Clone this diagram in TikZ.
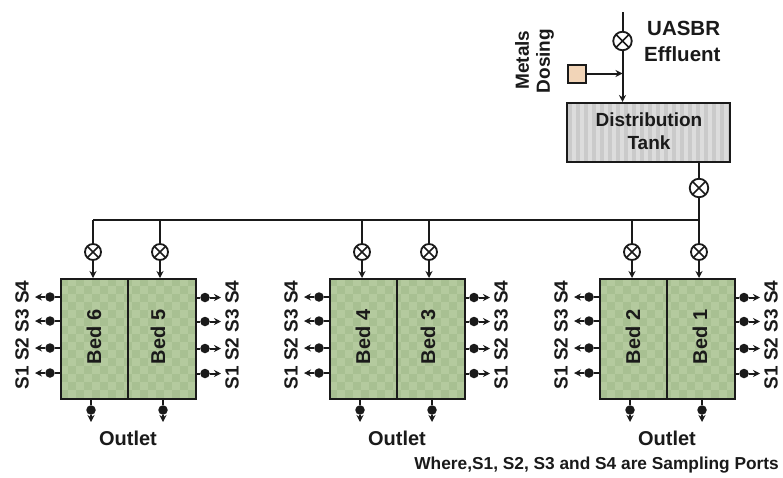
\documentclass[tikz,border=0pt]{standalone}
\usepackage{fontspec}
\setmainfont{Liberation Sans}
\usetikzlibrary{arrows.meta}
\definecolor{ink}{HTML}{1A1A1A}
\definecolor{bedA}{HTML}{B4CA9E}
\definecolor{bedB}{HTML}{A8C092}
\definecolor{tankA}{HTML}{DCDCDC}
\definecolor{tankB}{HTML}{CACACA}
\definecolor{dose}{HTML}{F2D5B8}
\tikzset{
  txt/.style={font=\bfseries\fontsize{#1}{#1}\selectfont,text=ink,inner sep=0pt},
  pipe/.style={draw=ink,line width=2pt},
  flow/.style={pipe,-{Stealth[length=7pt,width=7pt]}},
  valve/.style={circle,draw=ink,line width=1.8pt,fill=white,minimum size=#1,inner sep=0pt,
    path picture={\draw[ink,line width=1.5pt]
      (path picture bounding box.north west)--(path picture bounding box.south east)
      (path picture bounding box.north east)--(path picture bounding box.south west);}},
  port/.style={circle,fill=ink,minimum size=9.5pt,inner sep=0pt},
  box/.style={draw=ink,line width=2pt,inner sep=0pt,fill=none},
}
\newcommand{\bedgroup}[5]{%
% #1 prefix, #2 box left, #3 left bed no., #4 right bed no., #5 right bed text offset
\pgfmathsetmacro{\xl}{#2}
\pgfmathsetmacro{\xm}{#2+67}
\pgfmathsetmacro{\xr}{#2+135}
\begin{scope}
\clip (\xl,278) rectangle (\xr,398);
\fill[bedA] (\xl,278) rectangle (\xr,398);
\foreach \i in {0,...,16}{\foreach \j in {0,...,15}{
  \pgfmathparse{int(mod(\i+\j,2))}
  \ifnum\pgfmathresult=0
    \fill[bedB] ({\xl+\i*8},{278+\j*8}) rectangle ++(8,8);
  \fi}}
\end{scope}
\node[box,minimum width=67pt,minimum height=120pt,anchor=north west] (#1L) at (\xl,278) {};
\node[box,minimum width=68pt,minimum height=120pt,anchor=north west] (#1R) at (\xm,278) {};
\node[txt=20,rotate=90] at (\xl+34,337) {Bed #3};
\node[txt=20,rotate=90] at (\xm+#5,337) {Bed #4};
% inlet
\coordinate (#1hL) at (\xl+33,220);
\coordinate (#1hR) at (\xm+33,220);
\node[valve=16pt] (#1vL) at (\xl+33,252) {};
\node[valve=16pt] (#1vR) at (\xm+33,252) {};
\draw[pipe] (#1hL) -- (#1vL);
\draw[pipe] (#1hR) -- (#1vR);
\draw[flow] (#1vL) -- (#1vL |- #1L.north);
\draw[flow] (#1vR) -- (#1vR |- #1R.north);
% sampling ports
\foreach \y/\n in {297/a,321/b,348/c,373/d}{
  \node[port] (#1p\n) at (\xl-10,\y) {};
  \coordinate (#1e\n) at (\xl-25,\y);
  \draw[pipe] (#1L.west |- #1p\n) -- (#1p\n);
  \draw[flow] (#1p\n) -- (#1e\n);
  \node[port] (#1q\n) at (\xr+10,\y+0.5) {};
  \coordinate (#1f\n) at (\xr+26,\y+0.5);
  \draw[pipe] (#1R.east |- #1q\n) -- (#1q\n);
  \draw[flow] (#1q\n) -- (#1f\n);
}
\node[txt=19,rotate=90] at (\xl-38,335) {S1 S2 S3 S4};
\node[txt=19,rotate=90] at (\xr+37,335) {S1 S2 S3 S4};
% outlets
\node[port] (#1oL) at (\xl+31,410) {};
\node[port] (#1oR) at (\xm+36,410) {};
\coordinate (#1eL) at (\xl+31,422);
\coordinate (#1eR) at (\xm+36,422);
\draw[pipe] (#1oL |- #1L.south) -- (#1oL);
\draw[pipe] (#1oR |- #1R.south) -- (#1oR);
\draw[flow] (#1oL) -- (#1eL);
\draw[flow] (#1oR) -- (#1eR);
\node[txt=20] at (\xl+68,438) {Outlet};
}
\begin{document}
\begin{tikzpicture}[x=1pt,y=-1pt]
\useasboundingbox[fill=white] (0,0) rectangle (783,477);
% Distribution tank
\begin{scope}
\clip (566,102) rectangle (729,161);
\fill[tankA] (566,102) rectangle (729,161);
\foreach \i in {0,...,20}{\fill[tankB] ({568+\i*8},102) rectangle ++(3.5,59);}
\end{scope}
\node[box,minimum width=163pt,minimum height=59pt,anchor=north west] (tank) at (566,102) {};
\node[txt=19] at (649,120) {Distribution};
\node[txt=19] at (649,143) {Tank};
% influent
\coordinate (top) at (622.5,12);
\coordinate (jn) at (622.5,73.5);
\node[valve=18.5pt] (v0) at (622.5,41) {};
\draw[pipe] (top) -- (v0);
\draw[flow] (v0) -- (v0 |- tank.north);
\node[draw=ink,line width=2pt,fill=dose,minimum width=18pt,minimum height=18pt,inner sep=0pt] (dosing) at (576.5,73.5) {};
\draw[flow] (dosing) -- (jn);
\node[txt=20.5,anchor=west] at (647,28) {UASBR};
\node[txt=20.5,anchor=west] at (644,54) {Effluent};
\node[txt=19,rotate=90] at (522,60) {Metals};
\node[txt=19,rotate=90] at (545,61) {Dosing};
% header
\node[valve=18.5pt] (v1) at (699,188) {};
\draw[pipe] (tank.south -| v1) -- (v1);
\coordinate (hl) at (93,220);
\coordinate (hr) at (699,220);
\draw[pipe] (v1) -- (hr);
\draw[pipe] (hl) -- (hr);
% bed groups
\bedgroup{A}{60}{6}{5}{31}
\bedgroup{B}{329}{4}{3}{32}
\bedgroup{C}{599}{2}{1}{34}
\node[txt=17.3,anchor=east] at (779,465) {Where,S1, S2, S3 and S4 are Sampling Ports};
\end{tikzpicture}
\end{document}
